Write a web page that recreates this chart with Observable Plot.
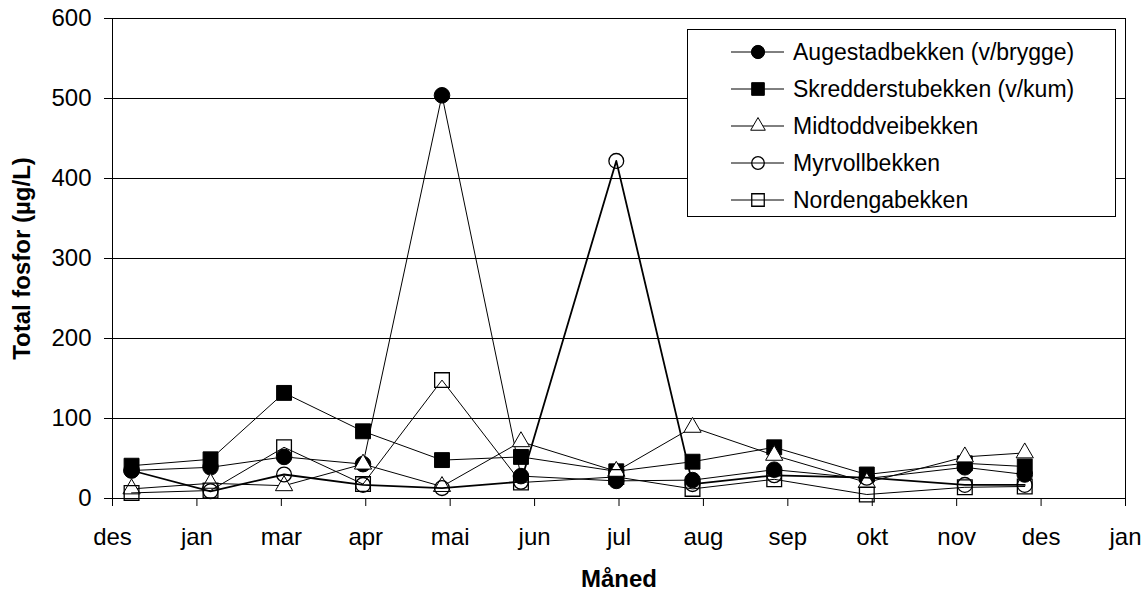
<!DOCTYPE html>
<html><head><meta charset="utf-8">
<script src="https://cdn.jsdelivr.net/npm/d3@7"></script>
<script src="https://cdn.jsdelivr.net/npm/@observablehq/plot@0.6"></script>
<style>
body{margin:0;background:#fff;font-family:"Liberation Sans",Arial,sans-serif;}
#wrap{position:relative;width:1148px;height:591px;}
</style></head><body><div id="wrap"></div>
<script>
// Sample dates (one per month)
const sampleDates = ["2006-01-07","2006-02-05","2006-03-04","2006-04-02","2006-05-01","2006-05-30","2006-07-04","2006-08-01","2006-08-31","2006-10-04","2006-11-09","2006-12-01"];
// Total fosfor (µg/L) per stream
const augestad  = [35, 39, 52, 43, 504, 28, 22, 23, 36, 25, 39, 30];
const skredder  = [41, 49, 132, 84, 48, 52, 34, 46, 64, 30, 44, 40];
const midtodd   = [12, 19, 16, 43, 15, 71, 34, 89, 54, 20, 52, 57];
const myrvoll   = [35, 9, 30, 17, 13, 21, 422, 18, 29, 26, 17, 17];
const nordenga  = [7, 10, 64, 18, 148, 20, 27, 12, 24, 5, 14, 15];
const seriesNames = ["Augestadbekken (v/brygge)","Skredderstubekken (v/kum)","Midtoddveibekken","Myrvollbekken","Nordengabekken"];
// Axis ticks
const tickDates = ["2005-12-31","2006-01-31","2006-03-03","2006-04-03","2006-05-04","2006-06-04","2006-07-05","2006-08-05","2006-09-05","2006-10-06","2006-11-06","2006-12-07","2007-01-07"];
const tickLabels = ["des","jan","mar","apr","mai","jun","jul","aug","sep","okt","nov","des","jan"];
const yTicks = [0,100,200,300,400,500,600];
const yTitle = "Total fosfor (µg/L)";
const xTitle = "Måned";

const allValues = [augestad, skredder, midtodd, myrvoll, nordenga];
const styles = [
  {symbol:"circle", r:7.8, fill:"#000", stroke:"#000", sw:1, lw:1},
  {symbol:"square", r:8.4, fill:"#000", stroke:"#000", sw:1, lw:1},
  {symbol:"triangle", r:6.4, fill:"#fff", stroke:"#000", sw:1, lw:1},
  {symbol:"circle", r:7.4, fill:"none", stroke:"#000", sw:1.3, lw:1.8},
  {symbol:"square", r:8.3, fill:"none", stroke:"#000", sw:1.3, lw:1}
];
const dates = sampleDates.map(s => new Date(s));
const tickObjs = tickDates.map(s => new Date(s));
const labelMap = new Map(tickObjs.map((d,i)=>[+d, tickLabels[i]]));

const seriesMarks = [];
allValues.forEach((vals, k) => {
  const rows = vals.map((v,i)=>({date:dates[i], value:v}));
  const st = styles[k];
  seriesMarks.push(Plot.line(rows, {x:"date", y:"value", stroke:"#000", strokeWidth:st.lw}));
  seriesMarks.push(Plot.dot(rows, {x:"date", y:"value", symbol:()=>st.symbol, r:st.r, fill:st.fill, stroke:st.stroke, strokeWidth:st.sw}));
});

const FONT = "Liberation Sans, Arial, sans-serif";
const plot = Plot.plot({
  width:1148, height:591,
  marginTop:18, marginBottom:93, marginLeft:112, marginRight:23,
  style:{fontFamily:FONT, fontSize:"24px", color:"#000", background:"#fff", overflow:"visible"},
  x:{type:"utc", domain:[tickObjs[0], tickObjs[tickObjs.length-1]]},
  y:{domain:[0,600]},
  symbol:{type:"identity"},
  marks:[
    Plot.gridY(yTicks, {stroke:"#000", strokeOpacity:1, strokeWidth:1}),
    Plot.frame({stroke:"#000"}),
    Plot.axisY(yTicks, {tickSize:8, tickPadding:13, label:null, fontSize:24, stroke:"#000"}),
    Plot.axisX(tickObjs, {tickSize:8, tickPadding:21, label:null, fontSize:24, tickFormat:d=>labelMap.get(+d), stroke:"#000"}),
    ...seriesMarks,
    Plot.text([yTitle], {frameAnchor:"left", dx:-90, rotate:-90, textAnchor:"middle", lineAnchor:"middle", fontWeight:"bold", fontSize:24, fill:"#000"}),
    Plot.text([xTitle], {frameAnchor:"bottom", dy:81, textAnchor:"middle", lineAnchor:"middle", fontWeight:"bold", fontSize:24, fill:"#000"})
  ]
});
document.getElementById("wrap").appendChild(plot);

// Legend drawn inside the plot area
const svg = d3.select(plot);
const lg = svg.append("g").attr("font-family", FONT).attr("font-size", 23).attr("text-anchor","start");
lg.append("rect").attr("x",687.5).attr("y",29.5).attr("width",428).attr("height",187).attr("fill","#fff").attr("stroke","#000");
const rowY = [52, 89, 126, 163, 200];
seriesNames.forEach((name, k) => {
  const st = styles[k];
  const y = rowY[k];
  lg.append("line").attr("x1",731).attr("x2",784).attr("y1",y).attr("y2",y).attr("stroke","#000").attr("stroke-width",1);
  const r = st.r * 0.85;
  if (st.symbol === "circle") {
    lg.append("circle").attr("cx",758).attr("cy",y).attr("r",r).attr("fill",st.fill).attr("stroke",st.stroke).attr("stroke-width",st.sw);
  } else {
    const sym = st.symbol === "square" ? d3.symbolSquare : d3.symbolTriangle;
    lg.append("path").attr("transform",`translate(758,${y})`).attr("d", d3.symbol(sym, r*r*Math.PI)()).attr("fill",st.fill).attr("stroke",st.stroke).attr("stroke-width",st.sw);
  }
  lg.append("text").attr("x",793).attr("y",y).attr("dy","0.35em").attr("text-anchor","start").attr("fill","#000").text(name);
});
</script></body></html>
